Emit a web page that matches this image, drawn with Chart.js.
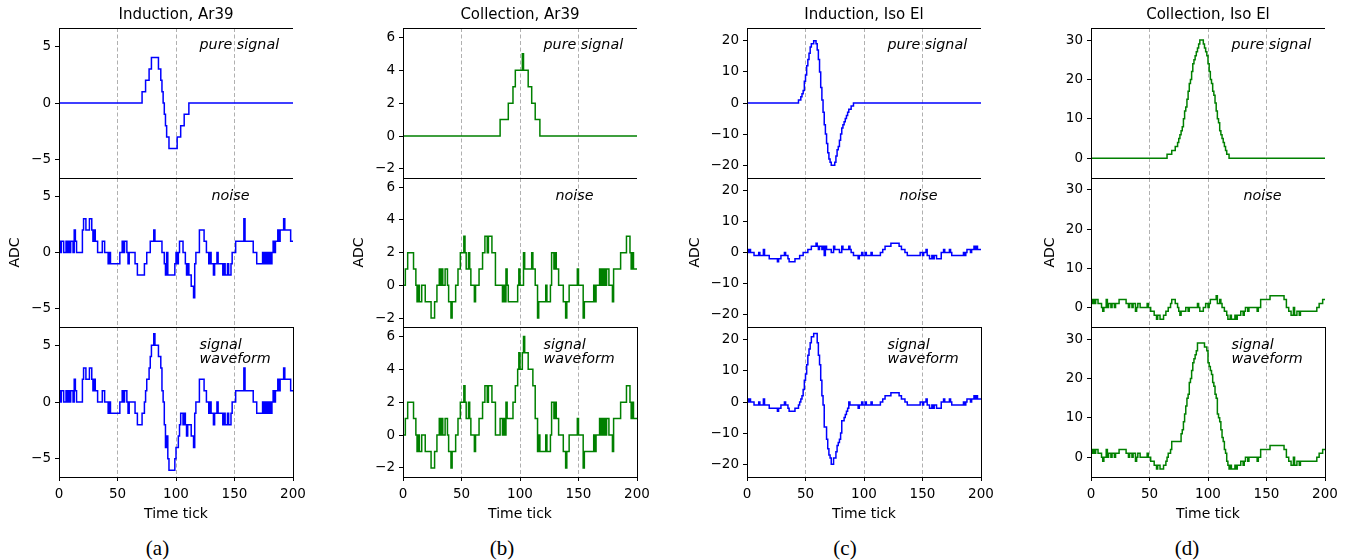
<!DOCTYPE html>
<html><head><meta charset="utf-8">
<script src="https://cdn.jsdelivr.net/npm/chart.js@4.4.1/dist/chart.umd.min.js"></script>
<style>
html,body{margin:0;padding:0;background:#fff;}
body{width:1355px;height:560px;position:relative;overflow:hidden;}
.wrap{position:absolute;}
.cap{position:absolute;font-family:"Liberation Serif","Times New Roman",serif;font-size:21px;color:#000;transform:translate(-50%,-50%);white-space:nowrap;}
</style></head><body>
<script>
// ---------------- data ----------------
const TIME = Array.from({length: 201}, (_, i) => i);   // time ticks 0..200
const XTICKS = [0, 50, 100, 150, 200];
const TITLES = ['Induction, Ar39', 'Collection, Ar39', 'Induction, Iso El', 'Collection, Iso El'];
const CAPTIONS = ['(a)', '(b)', '(c)', '(d)'];
const PANEL_NOTES = [['pure signal'], ['noise'], ['signal', 'waveform']];
const YTICKS_A = [-5, 0, 5];
const YTICKS_B = [-2, 0, 2, 4, 6];
const YTICKS_C = [-20, -10, 0, 10, 20];
const YTICKS_D = [0, 10, 20, 30];

const SIG_A = [
0,0,0,0,0,0,0,0,0,0, 0,0,0,0,0,0,0,0,0,0, 0,0,0,0,0,0,0,0,0,0, 0,0,0,0,0,0,0,0,0,0,
0,0,0,0,0,0,0,0,0,0, 0,0,0,0,0,0,0,0,0,0, 0,0,0,0,0,0,0,0,0,0, 0,0,1,1,1,2,2,2,3,3,
4,4,4,4,4,4,3,3,2,1, 0,-1,-2,-3,-3,-4,-4,-4,-4,-4, -4,-4,-3,-3,-3,-2,-2,-2,-1,-1, -1,-1,0,0,0,0,0,0,0,0,
0,0,0,0,0,0,0,0,0,0, 0,0,0,0,0,0,0,0,0,0, 0,0,0,0,0,0,0,0,0,0, 0,0,0,0,0,0,0,0,0,0,
0,0,0,0,0,0,0,0,0,0, 0,0,0,0,0,0,0,0,0,0, 0,0,0,0,0,0,0,0,0,0, 0,0,0,0,0,0,0,0,0,0,
0];
const NOISE_A = [
1,1,0,1,1,0,0,1,0,1, 0,1,1,0,2,1,0,0,0,0, 0,2,3,3,2,2,2,3,3,2, 1,2,1,1,0,0,0,0,1,1,
0,0,0,-1,0,-1,-1,-1,-1,-1, -1,-1,-1,0,0,1,0,1,1,0, -1,0,0,0,0,0,-1,-1,-2,-2, -2,-2,-2,-2,-1,-1,0,0,0,1,
1,1,2,1,1,1,1,1,1,0, 0,-1,-2,0,-2,-2,-2,-2,-2,-2, -1,0,-1,0,1,1,1,0,0,-1, -2,-1,-2,-2,-3,-3,-4,-1,0,0,
0,2,2,2,2,1,1,0,0,-1, 0,-1,-1,-2,-1,-1,0,-1,-1,-1, -1,-2,-1,-2,-2,-1,-2,-2,-1,0, 0,0,1,1,1,1,1,1,1,3,
1,1,1,1,1,1,1,0,0,0, -1,-1,-1,-1,-1,0,-1,0,-1,0, -1,0,-1,0,1,0,1,1,2,1, 2,2,2,3,2,2,2,2,2,1,
1];
const WAVE_A = [
1,1,0,1,1,0,0,1,0,1, 0,1,1,0,2,1,0,0,0,0, 0,2,3,3,2,2,2,3,3,2, 1,2,1,1,0,0,0,0,1,1,
0,0,0,-1,0,-1,-1,-1,-1,-1, -1,-1,-1,0,0,1,0,1,1,0, -1,0,0,0,0,0,-1,-1,-2,-2, -2,-2,-1,-1,0,1,2,2,3,4,
5,5,6,5,5,5,4,4,3,1, 0,-2,-4,-3,-5,-6,-6,-6,-6,-6, -5,-4,-4,-3,-2,-1,-1,-2,-1,-2, -3,-2,-2,-2,-3,-3,-4,-1,0,0,
0,2,2,2,2,1,1,0,0,-1, 0,-1,-1,-2,-1,-1,0,-1,-1,-1, -1,-2,-1,-2,-2,-1,-2,-2,-1,0, 0,0,1,1,1,1,1,1,1,3,
1,1,1,1,1,1,1,0,0,0, -1,-1,-1,-1,-1,0,-1,0,-1,0, -1,0,-1,0,1,0,1,1,2,1, 2,2,2,3,2,2,2,2,2,1,
1];

const SIG_B = [
0,0,0,0,0,0,0,0,0,0, 0,0,0,0,0,0,0,0,0,0, 0,0,0,0,0,0,0,0,0,0, 0,0,0,0,0,0,0,0,0,0,
0,0,0,0,0,0,0,0,0,0, 0,0,0,0,0,0,0,0,0,0, 0,0,0,0,0,0,0,0,0,0, 0,0,0,0,0,0,0,0,0,0,
0,0,0,0,1,1,1,1,1,1, 1,2,2,2,2,3,3,4,4,4, 4,4,4,5,4,4,4,4,3,3, 3,2,2,2,1,1,1,1,0,0,
0,0,0,0,0,0,0,0,0,0, 0,0,0,0,0,0,0,0,0,0, 0,0,0,0,0,0,0,0,0,0, 0,0,0,0,0,0,0,0,0,0,
0,0,0,0,0,0,0,0,0,0, 0,0,0,0,0,0,0,0,0,0, 0,0,0,0,0,0,0,0,0,0, 0,0,0,0,0,0,0,0,0,0,
0];
const NOISE_B = [
-1,0,0,1,1,2,2,2,2,2, 1,1,0,-1,0,-1,-1,0,0,0, -1,-1,-1,-1,-1,-2,-2,-2,-1,-1, 0,0,1,0,1,0,0,1,1,0,
-1,-1,-2,-1,-1,-1,0,0,1,1, 2,2,2,3,2,1,1,2,1,0, 0,0,-1,0,0,0,1,1,1,2, 2,3,3,2,3,3,3,2,2,2,
0,0,0,0,0,0,-1,0,-1,1, 0,-1,-1,-1,-1,-1,-1,-1,-1,0, 1,0,0,0,2,1,1,1,1,1, 1,2,1,1,0,0,-2,-1,-1,-1,
-1,-1,-1,0,-1,-1,-1,0,2,2, 1,2,1,1,0,0,0,0,-1,-1, -2,-1,-1,0,0,0,0,0,0,0, 1,0,0,0,0,-2,-1,-1,-1,-1,
-1,-1,-1,-1,0,-1,0,0,0,1, 0,1,0,1,0,1,1,0,0,0, -1,1,1,1,1,1,1,2,2,2, 2,2,3,3,3,2,1,2,1,1,
1];
const WAVE_B = [
-1,0,0,1,1,2,2,2,2,2, 1,1,0,-1,0,-1,-1,0,0,0, -1,-1,-1,-1,-1,-2,-2,-2,-1,-1, 0,0,1,0,1,0,0,1,1,0,
-1,-1,-2,-1,-1,-1,0,0,1,1, 2,2,2,3,2,1,1,2,1,0, 0,0,-1,0,0,0,1,1,1,2, 2,3,3,2,3,3,3,2,2,2,
0,0,0,0,1,1,0,1,0,2, 1,1,1,1,1,2,2,3,3,4, 5,4,4,5,6,5,5,5,4,4, 4,4,3,3,1,1,-1,0,-1,-1,
-1,-1,-1,0,-1,-1,-1,0,2,2, 1,2,1,1,0,0,0,0,-1,-1, -2,-1,-1,0,0,0,0,0,0,0, 1,0,0,0,0,-2,-1,-1,-1,-1,
-1,-1,-1,-1,0,-1,0,0,0,1, 0,1,0,1,0,1,1,0,0,0, -1,1,1,1,1,1,1,2,2,2, 2,2,3,3,3,2,1,2,1,1,
1];

const SIG_C = [
0,0,0,0,0,0,0,0,0,0, 0,0,0,0,0,0,0,0,0,0, 0,0,0,0,0,0,0,0,0,0, 0,0,0,0,0,0,0,0,0,0,
0,0,0,0,0,1,1,2,3,4, 7,9,12,14,16,18,19,19,20,20, 19,17,14,10,5,1,-3,-7,-10,-13, -16,-18,-19,-20,-20,-20,-19,-17,-15,-14,
-12,-10,-8,-7,-6,-5,-4,-3,-2,-2, -1,-1,0,0,0,0,0,0,0,0, 0,0,0,0,0,0,0,0,0,0, 0,0,0,0,0,0,0,0,0,0,
0,0,0,0,0,0,0,0,0,0, 0,0,0,0,0,0,0,0,0,0, 0,0,0,0,0,0,0,0,0,0, 0,0,0,0,0,0,0,0,0,0,
0,0,0,0,0,0,0,0,0,0, 0,0,0,0,0,0,0,0,0,0, 0,0,0,0,0,0,0,0,0,0, 0,0,0,0,0,0,0,0,0,0,
0];
const NOISE_C = [
1,1,0,1,0,0,0,-1,-1,-1, -1,0,-1,-1,-1,1,-1,-1,-1,-1, -2,-2,-2,-2,-2,-2,-2,-3,-2,-2, -1,-1,-1,0,-1,-1,-2,-3,-3,-3,
-3,-3,-2,-2,-2,-2,-1,-1,-1,0, 0,0,0,1,1,1,2,2,2,2, 3,2,1,2,2,1,2,-1,2,1, 1,1,1,0,0,2,1,1,1,1,
0,0,2,1,1,1,1,1,2,1, 0,0,-1,-1,-1,-1,-2,-1,-1,0, -1,-1,0,-1,-1,-1,-1,0,-1,-1, -1,-1,-1,-1,-1,0,0,1,1,2,
2,2,2,2,3,3,3,3,3,3, 3,2,2,1,1,1,0,0,-1,-1, -1,-1,-1,-1,-1,-1,-1,-1,-1,0, 0,-1,0,0,1,-1,-1,-2,-2,-1,
-2,-1,-1,-2,-2,-2,-2,0,0,1, 0,0,0,0,1,0,-1,-1,-1,-1, -1,-1,-1,-1,-1,-1,0,-1,0,1, 1,1,0,1,1,2,1,2,1,1,
1];
const WAVE_C = [
1,1,0,1,0,0,0,-1,-1,-1, -1,0,-1,-1,-1,1,-1,-1,-1,-1, -2,-2,-2,-2,-2,-2,-2,-3,-2,-2, -1,-1,-1,0,-1,-1,-2,-3,-3,-3,
-3,-3,-2,-2,-2,-1,0,1,2,4, 7,9,12,15,17,19,21,21,22,22, 22,19,15,12,7,2,-1,-8,-8,-12, -15,-17,-18,-20,-20,-18,-18,-16,-14,-13,
-12,-10,-6,-6,-5,-4,-3,-2,0,-1, -1,-1,-1,-1,-1,-1,-2,-1,-1,0, -1,-1,0,-1,-1,-1,-1,0,-1,-1, -1,-1,-1,-1,-1,0,0,1,1,2,
2,2,2,2,3,3,3,3,3,3, 3,2,2,1,1,1,0,0,-1,-1, -1,-1,-1,-1,-1,-1,-1,-1,-1,0, 0,-1,0,0,1,-1,-1,-2,-2,-1,
-2,-1,-1,-2,-2,-2,-2,0,0,1, 0,0,0,0,1,0,-1,-1,-1,-1, -1,-1,-1,-1,-1,-1,0,-1,0,1, 1,1,0,1,1,2,1,2,1,1,
1];

const SIG_D = [
0,0,0,0,0,0,0,0,0,0, 0,0,0,0,0,0,0,0,0,0, 0,0,0,0,0,0,0,0,0,0, 0,0,0,0,0,0,0,0,0,0,
0,0,0,0,0,0,0,0,0,0, 0,0,0,0,0,0,0,0,0,0, 0,0,0,0,0,0,1,1,1,1, 2,2,2,3,3,4,5,6,7,8,
10,12,13,15,17,19,20,22,24,25, 26,27,28,29,30,30,30,29,28,27, 26,24,22,20,19,17,16,14,12,10, 9,7,6,5,4,3,2,1,1,0,
0,0,0,0,0,0,0,0,0,0, 0,0,0,0,0,0,0,0,0,0, 0,0,0,0,0,0,0,0,0,0, 0,0,0,0,0,0,0,0,0,0,
0,0,0,0,0,0,0,0,0,0, 0,0,0,0,0,0,0,0,0,0, 0,0,0,0,0,0,0,0,0,0, 0,0,0,0,0,0,0,0,0,0,
0];
const NOISE_D = [
2,2,1,2,1,2,2,1,1,1, 0,-1,0,0,2,0,1,1,0,1, 1,0,1,1,1,2,2,2,2,2, 2,1,1,0,1,1,0,1,1,-1,
0,1,1,0,0,0,0,0,0,1, 0,0,-1,-1,-1,-2,-2,-3,-2,-2, -3,-3,-3,-2,-2,-1,-1,0,0,1, 2,2,2,1,1,0,-1,-2,-1,-1,
-1,-1,0,0,-1,0,0,0,0,0, 0,0,1,0,-1,-1,-1,0,0,1, 1,0,1,2,2,2,2,2,3,1, 1,2,1,0,0,-1,-1,-2,-3,-3,
-2,-3,-3,-3,-2,-3,-2,-2,-2,-1, -1,-2,-1,0,0,-1,0,0,0,0, 0,0,0,-1,0,0,2,2,2,2, 2,2,2,2,3,3,3,3,3,3,
3,3,3,3,3,3,2,2,0,0, -1,-1,-2,-2,0,-2,-2,-1,-1,-2, -1,-1,-1,-1,-1,-1,-1,-1,-1,-1, -1,-1,-1,-1,0,0,1,1,1,2,
2];
const WAVE_D = [
2,2,1,2,1,2,2,1,1,1, 0,-1,0,0,2,0,1,1,0,1, 1,0,1,1,1,2,2,2,2,2, 2,1,1,0,1,1,0,1,1,-1,
0,1,1,0,0,0,0,0,0,1, 0,0,-1,-1,-1,-2,-2,-3,-2,-2, -3,-3,-3,-2,-2,-1,0,1,1,2, 4,4,4,4,4,4,4,4,6,7,
9,11,13,15,16,19,20,22,24,25, 26,27,29,29,29,29,29,29,28,28, 27,24,23,22,21,19,18,16,15,11, 10,9,7,5,4,2,1,-1,-2,-3,
-2,-3,-3,-3,-2,-3,-2,-2,-2,-1, -1,-2,-1,0,0,-1,0,0,0,0, 0,0,0,-1,0,0,2,2,2,2, 2,2,2,2,3,3,3,3,3,3,
3,3,3,3,3,3,2,2,0,0, -1,-1,-2,-2,0,-2,-2,-1,-1,-2, -1,-1,-1,-1,-1,-1,-1,-1,-1,-1, -1,-1,-1,-1,0,0,1,1,1,2,
2];

// ---------------- layout / style ----------------
const FONT = '"DejaVu Sans", "Liberation Sans", sans-serif';
Chart.defaults.font.family = FONT;
Chart.defaults.color = '#000';

const ROW_TOP = [28, 178, 327];
const ROW_BOT = [178, 327, 477];
const PLOT_W = 234;
const NOTE_DX = [140.5, 152.5, 140.5];
const NOTE_DY = [17.7, 18, 18.2];

const COLS = [
  {left: 59,   adc: 44, color: '#0000ff', ymin: -6.6,  ymax: 6.6,   yticks: YTICKS_A, series: [SIG_A, NOISE_A, WAVE_A], capX: 157.5},
  {left: 403,  adc: 44, color: '#008000', ymin: -2.55, ymax: 6.57,  yticks: YTICKS_B, series: [SIG_B, NOISE_B, WAVE_B], capX: 502},
  {left: 747,  adc: 52, color: '#0000ff', ymin: -24.1, ymax: 24.1,  yticks: YTICKS_C, series: [SIG_C, NOISE_C, WAVE_C], capX: 845},
  {left: 1091, adc: 41, color: '#008000', ymin: -5,    ymax: 33.05, yticks: YTICKS_D, series: [SIG_D, NOISE_D, WAVE_D], capX: 1187}
];

const fmt = v => (v < 0 ? '\u2212' + Math.abs(v) : String(v));

const framePlugin = {
  id: 'frame',
  afterDraw(chart, args, opts) {
    const {ctx, chartArea: a} = chart;
    ctx.save();
    ctx.strokeStyle = '#000';
    ctx.lineWidth = 1;
    const l = Math.round(a.left) + 0.5, t = Math.round(a.top) + 0.5;
    const r = Math.round(a.right) + 0.5, b = Math.round(a.bottom) + 0.5;
    ctx.strokeRect(l, t, r - l, b - t);
    if (opts.title) {
      ctx.font = '15px "DejaVu Sans"';
      ctx.fillStyle = '#000';
      ctx.textAlign = 'center';
      ctx.textBaseline = 'middle';
      ctx.fillText(opts.title, (a.left + a.right) / 2, a.top - 13);
    }
    ctx.restore();
  }
};
const notePlugin = {
  id: 'note',
  afterDatasetsDraw(chart, args, opts) {
    const {ctx, chartArea: a} = chart;
    ctx.save();
    ctx.font = 'italic 14.3px "DejaVu Sans"';
    ctx.fillStyle = '#000';
    ctx.textBaseline = 'middle';
    ctx.textAlign = 'left';
    opts.lines.forEach((s, i) => ctx.fillText(s, a.left + opts.dx, a.top + opts.dy + i * 14));
    ctx.restore();
  }
};

function makeConfig(ci, row) {
  const c = COLS[ci];
  const Wy = c.adc + 8;
  const vals = c.series[row];
  return {
    type: 'line',
    data: {datasets: [{
      data: TIME.map((t, i) => ({x: t, y: vals[i]})),
      borderColor: c.color, borderWidth: 1.5, pointRadius: 0, stepped: 'after', fill: false
    }]},
    options: {
      responsive: false, maintainAspectRatio: false, animation: false, events: [],
      layout: {padding: {left: 0, top: row === 0 ? 24 : 0, bottom: 0, right: row === 2 ? 26 : 0}},
      plugins: {
        legend: {display: false}, tooltip: {enabled: false}, title: {display: false},
        frame: {title: row === 0 ? TITLES[ci] : null},
        note: {lines: PANEL_NOTES[row], dx: NOTE_DX[row], dy: NOTE_DY[row]}
      },
      scales: {
        x: {
          type: 'linear', min: 0, max: 200,
          afterBuildTicks: s => { s.ticks = XTICKS.map(v => ({value: v})); },
          afterFit: s => { s.height = row === 2 ? 45 : 0; },
          ticks: {display: row === 2, color: '#000', padding: 5.5, maxRotation: 0, autoSkip: false,
                  font: {family: FONT, size: 13.5, lineHeight: '16px'}},
          grid: {display: true, color: '#b0b0b0', lineWidth: 1, drawOnChartArea: true,
                 drawTicks: row === 2, tickLength: 4, tickColor: '#000', tickWidth: 1},
          border: {display: false, dash: [4, 2.5]},
          title: {display: row === 2, text: 'Time tick', color: '#000', padding: 0,
                  font: {family: FONT, size: 14, lineHeight: '16px'}}
        },
        y: {
          type: 'linear', min: c.ymin, max: c.ymax,
          afterBuildTicks: s => { s.ticks = c.yticks.map(v => ({value: v})); },
          afterFit: s => { s.width = Wy; },
          ticks: {callback: v => fmt(v), color: '#000', padding: 4,
                  font: {family: FONT, size: 13.5, lineHeight: '16px'}},
          grid: {display: true, drawOnChartArea: false, drawTicks: true, tickLength: 4,
                 tickColor: '#000', tickWidth: 1, color: '#000'},
          border: {display: false},
          title: {display: row === 1, text: 'ADC', color: '#000', padding: 0,
                  font: {family: FONT, size: 14, lineHeight: '16px'}}
        }
      }
    },
    plugins: [framePlugin, notePlugin]
  };
}

function place(ci, row) {
  const wrap = document.createElement('div');
  wrap.className = 'wrap';
  document.body.appendChild(wrap);
  const targetH = ROW_BOT[row] - ROW_TOP[row];
  let W = 360, H = 230, chart = null;
  for (let k = 0; k < 4; k++) {
    if (chart) chart.destroy();
    wrap.innerHTML = '';
    const cv = document.createElement('canvas');
    cv.width = W; cv.height = H;
    cv.style.width = W + 'px'; cv.style.height = H + 'px';
    wrap.appendChild(cv);
    chart = new Chart(cv, makeConfig(ci, row));
    const a = chart.chartArea;
    const dw = PLOT_W - (a.right - a.left), dh = targetH - (a.bottom - a.top);
    if (Math.abs(dw) < 0.01 && Math.abs(dh) < 0.01) break;
    W = Math.round(W + dw); H = Math.round(H + dh);
  }
  const a = chart.chartArea;
  wrap.style.left = Math.round(COLS[ci].left - a.left) + 'px';
  wrap.style.top = Math.round(ROW_TOP[row] - a.top) + 'px';
}

for (let ci = 0; ci < COLS.length; ci++) {
  for (let row = 0; row < 3; row++) place(ci, row);
  const cap = document.createElement('div');
  cap.className = 'cap';
  cap.textContent = CAPTIONS[ci];
  cap.style.left = COLS[ci].capX + 'px';
  cap.style.top = '548px';
  document.body.appendChild(cap);
}
</script>
</body></html>
